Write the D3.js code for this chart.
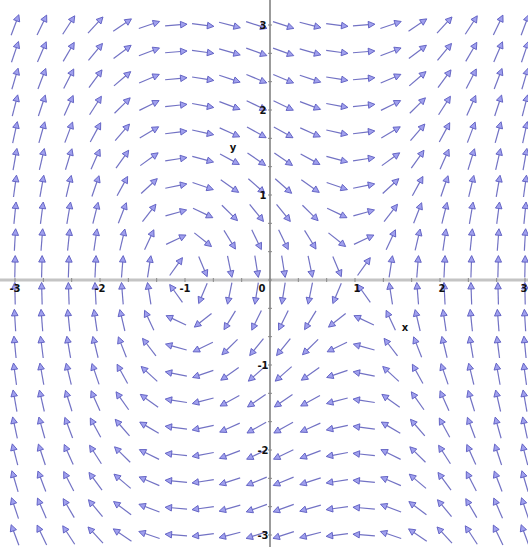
<!DOCTYPE html>
<html><head><meta charset="utf-8">
<script src="https://cdn.jsdelivr.net/npm/d3@7"></script>
<style>html,body{margin:0;padding:0;background:#fff;}svg{display:block;}</style>
</head><body>
<svg id="c" width="528" height="547"></svg>
<script>
// Direction field of the system x' = y, y' = x^2 - 1 (center at (-1,0), saddle at (1,0))
const gridX = [-3, -2.684, -2.368, -2.053, -1.737, -1.421, -1.105, -0.789, -0.474, -0.158,
               0.158, 0.474, 0.789, 1.105, 1.421, 1.737, 2.053, 2.368, 2.684, 3];
const gridY = [-3, -2.684, -2.368, -2.053, -1.737, -1.421, -1.105, -0.789, -0.474, -0.158,
               0.158, 0.474, 0.789, 1.105, 1.421, 1.737, 2.053, 2.368, 2.684, 3];
const xTicks = [-3, -2, -1, 0, 1, 2, 3];
const xTickLabels = ["-3", "-2", "-1", "0", "1", "2", "3"];
const yTicks = [-3, -2, -1, 1, 2, 3];
const yTickLabels = ["-3", "-2", "-1", "1", "2", "3"];
const axisNames = ["x", "y"];
const field = (x, y) => [y, x * x - 1];

const svg = d3.select("#c");
const x = d3.scaleLinear().domain([-3, 3]).range([15, 525]);
const y = d3.scaleLinear().domain([-3, 3]).range([535, 25]);

// axes
svg.append("line").attr("x1", 0).attr("x2", 528).attr("y1", y(0)).attr("y2", y(0))
  .attr("stroke", "#c4c4c4").attr("stroke-width", 3);
svg.append("line").attr("x1", x(0)).attr("x2", x(0)).attr("y1", 0).attr("y2", 547)
  .attr("stroke", "#7a7a7a").attr("stroke-width", 1.5);

const minor = d3.range(-9, 10).map(d => d / 3);
svg.selectAll(".mx").data(minor).enter().append("line")
  .attr("x1", d => x(d)).attr("x2", d => x(d)).attr("y1", y(0) - 2).attr("y2", y(0) + 2)
  .attr("stroke", "#888").attr("stroke-width", 1);
svg.selectAll(".my").data(minor).enter().append("line")
  .attr("y1", d => y(d)).attr("y2", d => y(d)).attr("x1", x(0) - 2).attr("x2", x(0) + 2)
  .attr("stroke", "#888").attr("stroke-width", 1);

// arrows
const L = 22, HL = 6.5, HW = 3.3;
const pts = [];
gridY.forEach(gy => gridX.forEach(gx => pts.push([gx, gy])));
const g = svg.append("g");
pts.forEach(([gx, gy]) => {
  const [u, v] = field(gx, gy);
  const m = Math.hypot(u, v) || 1;
  const dx = u / m, dy = -v / m;
  const cx = x(gx), cy = y(gy);
  const x0 = cx - dx * L / 2, y0 = cy - dy * L / 2;
  const x1 = cx + dx * L / 2, y1 = cy + dy * L / 2;
  const bx = x1 - dx * HL, by = y1 - dy * HL;
  g.append("line").attr("x1", x0).attr("y1", y0).attr("x2", bx).attr("y2", by)
    .attr("stroke", "#7272c4").attr("stroke-width", 1.2);
  g.append("path")
    .attr("d", `M${x1},${y1}L${bx - dy * HW},${by + dx * HW}L${bx + dy * HW},${by - dx * HW}Z`)
    .attr("fill", "#a0a0ee").attr("stroke", "#5a5ac0").attr("stroke-width", 0.9);
});

// tick labels
const lab = svg.append("g").attr("font-family", "DejaVu Sans, sans-serif")
  .attr("font-size", 10).attr("font-weight", "bold").attr("fill", "#111");
lab.selectAll(".xl").data(xTicks).enter().append("text")
  .attr("x", d => d === 0 ? x(d) - 8 : (d === 3 ? x(d) - 1 : x(d) + (d > 0 ? 2 : 0)))
  .attr("y", y(0) + 12).attr("text-anchor", "middle")
  .text((d, i) => xTickLabels[i]);
lab.selectAll(".yl").data(yTicks).enter().append("text")
  .attr("x", x(0) - 7).attr("y", d => y(d) + 4).attr("text-anchor", "middle")
  .text((d, i) => yTickLabels[i]);

// axis names
lab.append("text").attr("x", 405).attr("y", 331).attr("text-anchor", "middle").text(axisNames[0]);
lab.append("text").attr("x", 233).attr("y", 151).attr("text-anchor", "middle").text(axisNames[1]);
</script>
</body></html>
